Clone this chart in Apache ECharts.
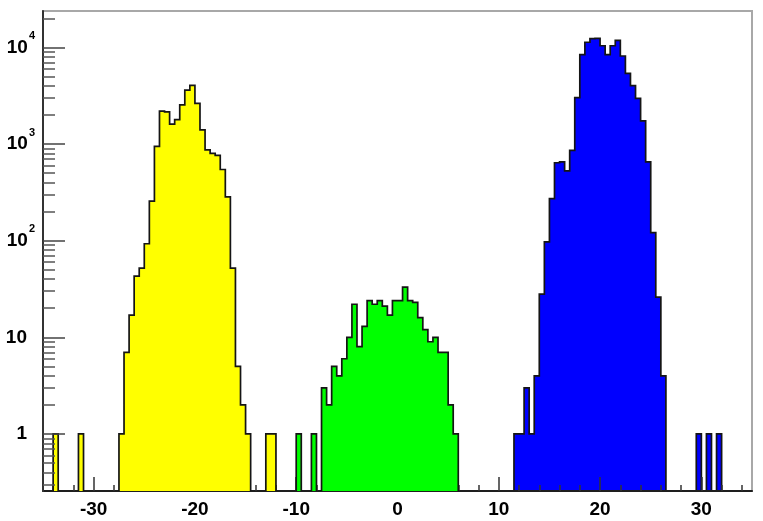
<!DOCTYPE html>
<html><head><meta charset="utf-8">
<script src="https://cdn.jsdelivr.net/npm/echarts@6/dist/echarts.min.js"></script>
<style>html,body{margin:0;padding:0;background:#fff}#c{width:763px;height:521px}</style>
</head><body><div id="c"></div>
<script>
// ---- data: histogram bins of width 0.5; each run = [low edge of first bin, counts] ----
const binWidth = 0.5;
const yellowRuns = [
  [-34, [1]],
  [-31.5, [1]],
  [-27.5, [1, 7, 17, 43, 52, 93, 257, 948, 2190, 2150, 1610, 1790, 2540, 3610, 4050, 2640, 1400, 870, 800, 765, 545, 284, 52, 5, 2, 1]],
  [-13, [1, 1]]
];
const greenRuns = [
  [-10, [1]],
  [-8.5, [1]],
  [-7.5, [3, 2, 5, 4, 6, 10, 22, 8, 13, 24, 22, 24, 21, 17, 24, 24, 33, 24, 23, 16, 12, 9, 10, 7, 7, 2, 1]]
];
const blueRuns = [
  [11.5, [1, 1, 3, 1, 4, 28, 97, 273, 640, 653, 527, 860, 3020, 8400, 11300, 12300, 12400, 10400, 8400, 10400, 11810, 8150, 5380, 4020, 2970, 1740, 653, 121, 26, 4]],
  [29.5, [1]],
  [30.5, [1]],
  [31.5, [1]]
];
// ---- axes ----
const xRange = [-35, 35];
const yRange = [0.257, 23800];
const xMajorTicks = [-30, -20, -10, 0, 10, 20, 30];
const xMinorTicks = [-34, -32, -28, -26, -24, -22, -18, -16, -14, -12, -8, -6, -4, -2, 2, 4, 6, 8, 12, 14, 16, 18, 22, 24, 26, 28, 32, 34];
const yMajorTicks = [1, 10, 100, 1000, 10000];
const yMinorTicks = [0.3, 0.4, 0.5, 0.6, 0.7, 0.8, 0.9,
  2, 3, 4, 5, 6, 7, 8, 9,
  20, 30, 40, 50, 60, 70, 80, 90,
  200, 300, 400, 500, 600, 700, 800, 900,
  2000, 3000, 4000, 5000, 6000, 7000, 8000, 9000,
  20000];
const yLabelText = {1: '{b|1}{sp| }', 10: '{b|10}{sp| }', 100: '{b|10}{sup|2}', 1000: '{b|10}{sup|3}', 10000: '{b|10}{sup|4}'};

function histSeries(runs, color, z) {
  return {
    type: 'custom',
    coordinateSystem: 'cartesian2d',
    z: z,
    silent: true,
    data: runs.map(r => [r[0], r[0] + r[1].length * binWidth, r[1][0]]),
    encode: {x: [0, 1], y: 2},
    renderItem: function (params, api) {
      const run = runs[params.dataIndex];
      const x0 = run[0], counts = run[1];
      const pts = [api.coord([x0, yRange[0]])];
      counts.forEach((c, i) => {
        pts.push(api.coord([x0 + i * binWidth, c]));
        pts.push(api.coord([x0 + (i + 1) * binWidth, c]));
      });
      pts.push(api.coord([x0 + counts.length * binWidth, yRange[0]]));
      return {
        type: 'group',
        children: [
          {type: 'polygon', shape: {points: pts}, style: {fill: color, stroke: null}},
          {type: 'polyline', shape: {points: pts}, style: {stroke: '#151515', lineWidth: 1.7, fill: null}}
        ]
      };
    }
  };
}

const font = 'Liberation Sans, Arial, Helvetica, sans-serif';
const chart = echarts.init(document.getElementById('c'), null, {renderer: 'canvas'});
chart.setOption({
  animation: false,
  backgroundColor: '#ffffff',
  grid: {left: 43, top: 11, width: 709, height: 480, show: true, borderColor: '#a8a8a8', borderWidth: 2, backgroundColor: 'transparent'},
  xAxis: [
    {
      type: 'value', min: xRange[0], max: xRange[1], position: 'bottom', z: 3,
      axisLine: {show: true, onZero: false, lineStyle: {color: '#1e1e1e', width: 2}},
      axisTick: {show: true, inside: true, length: 14, customValues: xMajorTicks, lineStyle: {color: '#333', width: 1.5}},
      axisLabel: {show: true, customValues: xMajorTicks, color: '#000', fontFamily: font, fontWeight: 'bold', fontSize: 19, margin: 9,
        formatter: v => String(v)},
      splitLine: {show: false}
    },
    {
      type: 'value', min: xRange[0], max: xRange[1], position: 'bottom', z: 3,
      axisLine: {show: false, onZero: false},
      axisTick: {show: true, inside: true, length: 6, customValues: xMinorTicks, lineStyle: {color: '#333', width: 1.5}},
      axisLabel: {show: false},
      splitLine: {show: false}
    }
  ],
  yAxis: [
    {
      type: 'log', logBase: 10, min: yRange[0], max: yRange[1], position: 'left', z: 6,
      axisLine: {show: true, onZero: false, lineStyle: {color: '#333', width: 2}},
      axisTick: {show: true, inside: true, length: 22, customValues: yMajorTicks, lineStyle: {color: '#444', width: 1.5}},
      axisLabel: {show: true, customValues: yMajorTicks, margin: 8, color: '#000',
        formatter: v => yLabelText[Math.round(v)] || '',
        rich: {
          b: {fontFamily: font, fontWeight: 'bold', fontSize: 19, lineHeight: 34, verticalAlign: 'middle', color: '#000'},
          sup: {fontFamily: font, fontWeight: 'bold', fontSize: 11, lineHeight: 11, verticalAlign: 'top', color: '#000', padding: [0, 0, 0, 1]},
          sp: {fontSize: 11, width: 8, lineHeight: 11}
        }},
      splitLine: {show: false}
    },
    {
      type: 'log', logBase: 10, min: yRange[0], max: yRange[1], position: 'left', z: 6,
      axisLine: {show: false, onZero: false},
      axisTick: {show: true, inside: true, length: 12, customValues: yMinorTicks, lineStyle: {color: '#555', width: 1.5}},
      axisLabel: {show: false},
      splitLine: {show: false}
    }
  ],
  series: [
    histSeries(blueRuns, '#0000ff', 2),
    histSeries(yellowRuns, '#ffff00', 4),
    histSeries(greenRuns, '#00ff00', 4)
  ]
});
</script>
</body></html>
